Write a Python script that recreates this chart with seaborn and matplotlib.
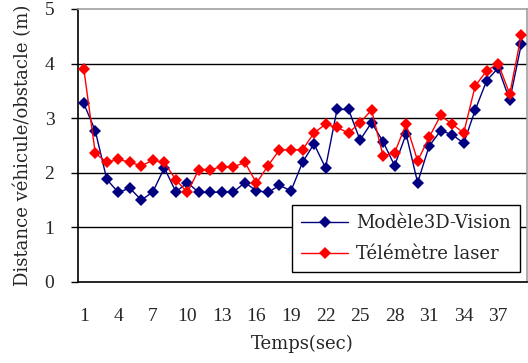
import numpy as np
import pandas as pd
import matplotlib
matplotlib.use("Agg")
import matplotlib.pyplot as plt
import seaborn as sns

temps = list(range(1, 40))
vision = [3.27, 2.77, 1.88, 1.64, 1.72, 1.50, 1.65, 2.09, 1.65, 1.82,
          1.64, 1.64, 1.65, 1.65, 1.82, 1.67, 1.64, 1.77, 1.67, 2.19,
          2.53, 2.09, 3.16, 3.16, 2.60, 2.92, 2.57, 2.13, 2.71, 1.82,
          2.49, 2.77, 2.70, 2.54, 3.15, 3.69, 3.92, 3.33, 4.35]
laser = [3.91, 2.36, 2.19, 2.25, 2.19, 2.13, 2.23, 2.19, 1.87, 1.64,
         2.06, 2.06, 2.11, 2.11, 2.19, 1.81, 2.13, 2.42, 2.42, 2.42,
         2.73, 2.89, 2.83, 2.73, 2.92, 3.15, 2.31, 2.37, 2.89, 2.22,
         2.65, 3.05, 2.89, 2.73, 3.59, 3.87, 4.00, 3.44, 4.52]
series_names = ["Modèle3D-Vision", "Télémètre laser"]
xtick_labels = [1, 4, 7, 10, 13, 16, 19, 22, 25, 28, 31, 34, 37]

df = pd.DataFrame({
    "Temps": temps * 2,
    "Distance": vision + laser,
    "Série": [series_names[0]] * len(temps) + [series_names[1]] * len(temps),
})

sns.set_theme(style="white")
plt.rcParams['font.family'] = ['DejaVu Serif', 'Liberation Serif']

fig = plt.figure(figsize=(5.28, 3.63), dpi=100)
ax = fig.add_axes([78/528, 1 - 282/363, (527-78)/528, (282-9)/363])

sns.lineplot(data=df, x="Temps", y="Distance", hue="Série",
             palette=["#000080", "#FF0000"], marker="D", markersize=6.5,
             markeredgewidth=0, linewidth=1.0, ax=ax, legend=True, zorder=3)

ax.set_xlim(0.5, 39.5)
ax.set_ylim(0, 5)
ax.set_yticks(range(0, 6))
ax.set_xticks(xtick_labels)
ax.set_xticks(np.arange(0.5, 40, 1), minor=True)
ax.tick_params(axis="x", which="major", length=0, pad=19)
ax.tick_params(axis="x", which="minor", length=5, width=1, color="black", direction="out")
ax.tick_params(axis="y", which="major", length=5, width=1, color="black", direction="out",
               pad=12, left=True)
for lab in ax.get_xticklabels() + ax.get_yticklabels():
    lab.set_fontfamily(['Liberation Serif'])
    lab.set_fontsize(14)
ax.grid(False)
for yv in range(1, 5):
    ax.axhline(yv, color="black", linewidth=1.0, zorder=1)

for side in ["left", "bottom"]:
    ax.spines[side].set_color("black")
    ax.spines[side].set_linewidth(1.2)
for side in ["top", "right"]:
    ax.spines[side].set_color("#a0a0a0")
    ax.spines[side].set_linewidth(1.2)

ax.set_xlabel("Temps(sec)", fontsize=13, labelpad=7)
ax.set_ylabel("Distance véhicule/obstacle (m)", fontsize=13, labelpad=9)

leg = ax.legend(loc="lower right", bbox_to_anchor=(0.985, 0.035), fontsize=13,
                frameon=True, fancybox=False, framealpha=1, edgecolor="black",
                handlelength=2.6, handletextpad=0.45, borderpad=0.5, labelspacing=0.75,
                borderaxespad=0)
leg.get_frame().set_linewidth(1.0)

fig.savefig("out.png", dpi=100)
